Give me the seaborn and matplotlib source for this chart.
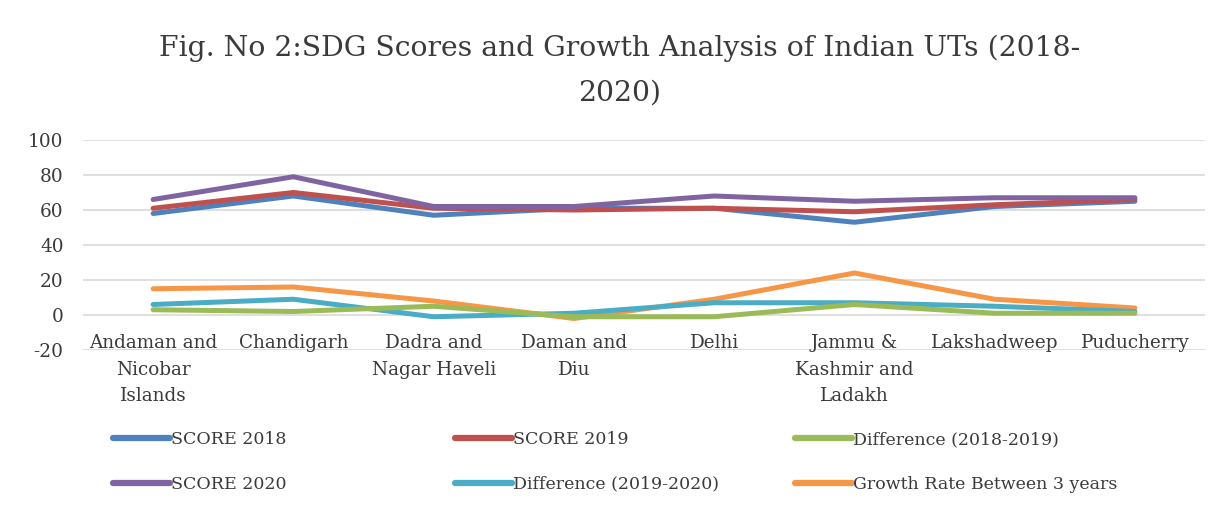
import matplotlib
matplotlib.use("Agg")
import matplotlib.pyplot as plt
import seaborn as sns
import pandas as pd

# Union territories (x-axis categories)
territories = [
    "Andaman and\nNicobar\nIslands", "Chandigarh", "Dadra and\nNagar Haveli",
    "Daman and\nDiu", "Delhi", "Jammu &\nKashmir and\nLadakh", "Lakshadweep",
    "Puducherry",
]

score_2018 = [58, 68, 57, 61, 61, 53, 62, 65]
score_2019 = [61, 70, 61, 60, 61, 59, 63, 66]
score_2020 = [66, 79, 62, 62, 68, 65, 67, 67]
diff_2018_2019 = [3, 2, 5, -1, -1, 6, 1, 1]
diff_2019_2020 = [6, 9, -1, 1, 7, 7, 5, 2]
growth_rate = [15, 16, 8, -2, 9, 24, 9, 4]

series_names = [
    "SCORE 2018", "SCORE 2019", "Difference (2018-2019)",
    "SCORE 2020", "Difference (2019-2020)", "Growth Rate Between 3 years",
]
series_values = [score_2018, score_2019, diff_2018_2019,
                 score_2020, diff_2019_2020, growth_rate]
colors = ["#4F81BD", "#C0504D", "#9BBB59", "#8064A2", "#4BACC6", "#F79646"]

y_ticks = [-20, 0, 20, 40, 60, 80, 100]

rows = []
for name, vals in zip(series_names, series_values):
    for i, v in enumerate(vals):
        rows.append({"pos": i, "value": v, "series": name})
df = pd.DataFrame(rows)

sns.set_theme(style="white")
plt.rcParams["font.family"] = ["DejaVu Serif"]
TEXT = "#3A3A3A"

fig = plt.figure(figsize=(12.25, 5.12), dpi=100)
ax = fig.add_axes([83 / 1225, 1 - 350 / 512, (1205 - 83) / 1225, 210 / 512])

# draw order so the score lines sit on top of the difference lines
draw_order = ["Growth Rate Between 3 years", "Difference (2019-2020)",
              "Difference (2018-2019)", "SCORE 2018", "SCORE 2019", "SCORE 2020"]
palette = dict(zip(series_names, colors))
sns.lineplot(data=df, x="pos", y="value", hue="series", hue_order=draw_order,
             palette=palette, linewidth=3.6, ax=ax, legend=False, sort=False)

ax.set_xlim(-0.5, len(territories) - 0.5)
ax.set_ylim(-20, 100)
ax.set_yticks(y_ticks)
ax.set_yticklabels([str(t) for t in y_ticks], fontsize=13.3, color=TEXT)
ax.tick_params(axis="y", length=0, pad=14)
ax.set_xticks([])
ax.set_xlabel("")
ax.set_ylabel("")
ax.grid(axis="y", color="#D9D9D9", linewidth=1.2)
ax.set_axisbelow(True)
for s in ax.spines.values():
    s.set_visible(False)

# category labels hang just below the zero line
for i, lab in enumerate(territories):
    ax.annotate(lab, xy=(i, 0), xytext=(0, -14), textcoords="offset points",
                ha="center", va="top", fontsize=13.2, color=TEXT,
                linespacing=1.58, annotation_clip=False)

fig.text(620 / 1225, 1 - 35 / 512,
         "Fig. No 2:SDG Scores and Growth Analysis of Indian UTs (2018-\n2020)",
         ha="center", va="top", fontsize=20.3, color=TEXT, linespacing=1.8)

# legend: three columns, each placed at its own x position
handles = {n: plt.Line2D([], [], color=c, linewidth=4.5)
           for n, c in zip(series_names, colors)}
legend_columns = [
    (113, ["SCORE 2018", "SCORE 2020"]),
    (455, ["SCORE 2019", "Difference (2019-2020)"]),
    (795, ["Difference (2018-2019)", "Growth Rate Between 3 years"]),
]
for x0, names in legend_columns:
    fig.legend([handles[n] for n in names], names, loc="upper left",
               bbox_to_anchor=(x0 / 1225, 1 - 431 / 512), frameon=False,
               fontsize=12.5, handlelength=3.3, handletextpad=0.05,
               labelspacing=1.6, borderpad=0, borderaxespad=0,
               labelcolor=TEXT)

fig.savefig("out.png", dpi=100)
